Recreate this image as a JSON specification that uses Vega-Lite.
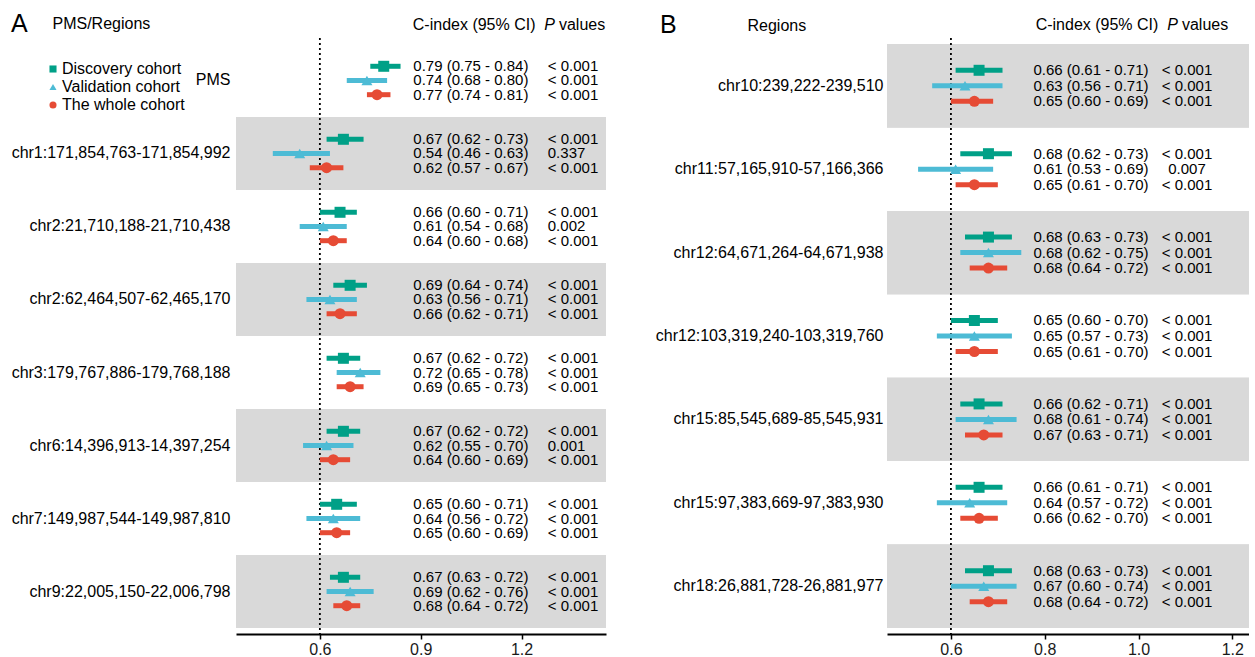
{
  "$schema": "https://vega.github.io/schema/vega-lite/v6.json",
  "background": "white",
  "padding": {"left": 11, "top": 12, "right": 0, "bottom": 0},
  "spacing": 49,
  "datasets": {
    "a": [
      {"region": "PMS", "cohort": "Discovery cohort", "est": 0.79, "lo": 0.75, "hi": 0.84, "ci": "0.79 (0.75 - 0.84)", "p": "< 0.001"},
      {"region": "PMS", "cohort": "Validation cohort", "est": 0.74, "lo": 0.68, "hi": 0.80, "ci": "0.74 (0.68 - 0.80)", "p": "< 0.001"},
      {"region": "PMS", "cohort": "The whole cohort", "est": 0.77, "lo": 0.74, "hi": 0.81, "ci": "0.77 (0.74 - 0.81)", "p": "< 0.001"},
      {"region": "chr1:171,854,763-171,854,992", "cohort": "Discovery cohort", "est": 0.67, "lo": 0.62, "hi": 0.73, "ci": "0.67 (0.62 - 0.73)", "p": "< 0.001"},
      {"region": "chr1:171,854,763-171,854,992", "cohort": "Validation cohort", "est": 0.54, "lo": 0.46, "hi": 0.63, "ci": "0.54 (0.46 - 0.63)", "p": "0.337"},
      {"region": "chr1:171,854,763-171,854,992", "cohort": "The whole cohort", "est": 0.62, "lo": 0.57, "hi": 0.67, "ci": "0.62 (0.57 - 0.67)", "p": "< 0.001"},
      {"region": "chr2:21,710,188-21,710,438", "cohort": "Discovery cohort", "est": 0.66, "lo": 0.60, "hi": 0.71, "ci": "0.66 (0.60 - 0.71)", "p": "< 0.001"},
      {"region": "chr2:21,710,188-21,710,438", "cohort": "Validation cohort", "est": 0.61, "lo": 0.54, "hi": 0.68, "ci": "0.61 (0.54 - 0.68)", "p": "0.002"},
      {"region": "chr2:21,710,188-21,710,438", "cohort": "The whole cohort", "est": 0.64, "lo": 0.60, "hi": 0.68, "ci": "0.64 (0.60 - 0.68)", "p": "< 0.001"},
      {"region": "chr2:62,464,507-62,465,170", "cohort": "Discovery cohort", "est": 0.69, "lo": 0.64, "hi": 0.74, "ci": "0.69 (0.64 - 0.74)", "p": "< 0.001"},
      {"region": "chr2:62,464,507-62,465,170", "cohort": "Validation cohort", "est": 0.63, "lo": 0.56, "hi": 0.71, "ci": "0.63 (0.56 - 0.71)", "p": "< 0.001"},
      {"region": "chr2:62,464,507-62,465,170", "cohort": "The whole cohort", "est": 0.66, "lo": 0.62, "hi": 0.71, "ci": "0.66 (0.62 - 0.71)", "p": "< 0.001"},
      {"region": "chr3:179,767,886-179,768,188", "cohort": "Discovery cohort", "est": 0.67, "lo": 0.62, "hi": 0.72, "ci": "0.67 (0.62 - 0.72)", "p": "< 0.001"},
      {"region": "chr3:179,767,886-179,768,188", "cohort": "Validation cohort", "est": 0.72, "lo": 0.65, "hi": 0.78, "ci": "0.72 (0.65 - 0.78)", "p": "< 0.001"},
      {"region": "chr3:179,767,886-179,768,188", "cohort": "The whole cohort", "est": 0.69, "lo": 0.65, "hi": 0.73, "ci": "0.69 (0.65 - 0.73)", "p": "< 0.001"},
      {"region": "chr6:14,396,913-14,397,254", "cohort": "Discovery cohort", "est": 0.67, "lo": 0.62, "hi": 0.72, "ci": "0.67 (0.62 - 0.72)", "p": "< 0.001"},
      {"region": "chr6:14,396,913-14,397,254", "cohort": "Validation cohort", "est": 0.62, "lo": 0.55, "hi": 0.70, "ci": "0.62 (0.55 - 0.70)", "p": "0.001"},
      {"region": "chr6:14,396,913-14,397,254", "cohort": "The whole cohort", "est": 0.64, "lo": 0.60, "hi": 0.69, "ci": "0.64 (0.60 - 0.69)", "p": "< 0.001"},
      {"region": "chr7:149,987,544-149,987,810", "cohort": "Discovery cohort", "est": 0.65, "lo": 0.60, "hi": 0.71, "ci": "0.65 (0.60 - 0.71)", "p": "< 0.001"},
      {"region": "chr7:149,987,544-149,987,810", "cohort": "Validation cohort", "est": 0.64, "lo": 0.56, "hi": 0.72, "ci": "0.64 (0.56 - 0.72)", "p": "< 0.001"},
      {"region": "chr7:149,987,544-149,987,810", "cohort": "The whole cohort", "est": 0.65, "lo": 0.60, "hi": 0.69, "ci": "0.65 (0.60 - 0.69)", "p": "< 0.001"},
      {"region": "chr9:22,005,150-22,006,798", "cohort": "Discovery cohort", "est": 0.67, "lo": 0.63, "hi": 0.72, "ci": "0.67 (0.63 - 0.72)", "p": "< 0.001"},
      {"region": "chr9:22,005,150-22,006,798", "cohort": "Validation cohort", "est": 0.69, "lo": 0.62, "hi": 0.76, "ci": "0.69 (0.62 - 0.76)", "p": "< 0.001"},
      {"region": "chr9:22,005,150-22,006,798", "cohort": "The whole cohort", "est": 0.68, "lo": 0.64, "hi": 0.72, "ci": "0.68 (0.64 - 0.72)", "p": "< 0.001"}
    ],
    "b": [
      {"region": "chr10:239,222-239,510", "cohort": "Discovery cohort", "est": 0.66, "lo": 0.61, "hi": 0.71, "ci": "0.66 (0.61 - 0.71)", "p": "< 0.001"},
      {"region": "chr10:239,222-239,510", "cohort": "Validation cohort", "est": 0.63, "lo": 0.56, "hi": 0.71, "ci": "0.63 (0.56 - 0.71)", "p": "< 0.001"},
      {"region": "chr10:239,222-239,510", "cohort": "The whole cohort", "est": 0.65, "lo": 0.60, "hi": 0.69, "ci": "0.65 (0.60 - 0.69)", "p": "< 0.001"},
      {"region": "chr11:57,165,910-57,166,366", "cohort": "Discovery cohort", "est": 0.68, "lo": 0.62, "hi": 0.73, "ci": "0.68 (0.62 - 0.73)", "p": "< 0.001"},
      {"region": "chr11:57,165,910-57,166,366", "cohort": "Validation cohort", "est": 0.61, "lo": 0.53, "hi": 0.69, "ci": "0.61 (0.53 - 0.69)", "p": "0.007"},
      {"region": "chr11:57,165,910-57,166,366", "cohort": "The whole cohort", "est": 0.65, "lo": 0.61, "hi": 0.70, "ci": "0.65 (0.61 - 0.70)", "p": "< 0.001"},
      {"region": "chr12:64,671,264-64,671,938", "cohort": "Discovery cohort", "est": 0.68, "lo": 0.63, "hi": 0.73, "ci": "0.68 (0.63 - 0.73)", "p": "< 0.001"},
      {"region": "chr12:64,671,264-64,671,938", "cohort": "Validation cohort", "est": 0.68, "lo": 0.62, "hi": 0.75, "ci": "0.68 (0.62 - 0.75)", "p": "< 0.001"},
      {"region": "chr12:64,671,264-64,671,938", "cohort": "The whole cohort", "est": 0.68, "lo": 0.64, "hi": 0.72, "ci": "0.68 (0.64 - 0.72)", "p": "< 0.001"},
      {"region": "chr12:103,319,240-103,319,760", "cohort": "Discovery cohort", "est": 0.65, "lo": 0.60, "hi": 0.70, "ci": "0.65 (0.60 - 0.70)", "p": "< 0.001"},
      {"region": "chr12:103,319,240-103,319,760", "cohort": "Validation cohort", "est": 0.65, "lo": 0.57, "hi": 0.73, "ci": "0.65 (0.57 - 0.73)", "p": "< 0.001"},
      {"region": "chr12:103,319,240-103,319,760", "cohort": "The whole cohort", "est": 0.65, "lo": 0.61, "hi": 0.70, "ci": "0.65 (0.61 - 0.70)", "p": "< 0.001"},
      {"region": "chr15:85,545,689-85,545,931", "cohort": "Discovery cohort", "est": 0.66, "lo": 0.62, "hi": 0.71, "ci": "0.66 (0.62 - 0.71)", "p": "< 0.001"},
      {"region": "chr15:85,545,689-85,545,931", "cohort": "Validation cohort", "est": 0.68, "lo": 0.61, "hi": 0.74, "ci": "0.68 (0.61 - 0.74)", "p": "< 0.001"},
      {"region": "chr15:85,545,689-85,545,931", "cohort": "The whole cohort", "est": 0.67, "lo": 0.63, "hi": 0.71, "ci": "0.67 (0.63 - 0.71)", "p": "< 0.001"},
      {"region": "chr15:97,383,669-97,383,930", "cohort": "Discovery cohort", "est": 0.66, "lo": 0.61, "hi": 0.71, "ci": "0.66 (0.61 - 0.71)", "p": "< 0.001"},
      {"region": "chr15:97,383,669-97,383,930", "cohort": "Validation cohort", "est": 0.64, "lo": 0.57, "hi": 0.72, "ci": "0.64 (0.57 - 0.72)", "p": "< 0.001"},
      {"region": "chr15:97,383,669-97,383,930", "cohort": "The whole cohort", "est": 0.66, "lo": 0.62, "hi": 0.70, "ci": "0.66 (0.62 - 0.70)", "p": "< 0.001"},
      {"region": "chr18:26,881,728-26,881,977", "cohort": "Discovery cohort", "est": 0.68, "lo": 0.63, "hi": 0.73, "ci": "0.68 (0.63 - 0.73)", "p": "< 0.001"},
      {"region": "chr18:26,881,728-26,881,977", "cohort": "Validation cohort", "est": 0.67, "lo": 0.60, "hi": 0.74, "ci": "0.67 (0.60 - 0.74)", "p": "< 0.001"},
      {"region": "chr18:26,881,728-26,881,977", "cohort": "The whole cohort", "est": 0.68, "lo": 0.64, "hi": 0.72, "ci": "0.68 (0.64 - 0.72)", "p": "< 0.001"}
    ],
    "ref": [{"threshold": 0.6}]
  },
  "hconcat": [
    {
      "width": 370,
      "height": 596,
      "title": {"text": "A", "anchor": "start", "frame": "group", "fontSize": 25, "fontWeight": "normal", "color": "black", "dx": -225, "offset": -22},
      "layer": [
        {
          "data": {"name": "a"},
          "transform": [{"filter": {"field": "region", "oneOf": ["chr1:171,854,763-171,854,992", "chr2:62,464,507-62,465,170", "chr6:14,396,913-14,397,254", "chr9:22,005,150-22,006,798"]}}],
          "mark": {"type": "rect", "color": "#D9D9D9"},
          "encoding": {
            "y": {"field": "region", "type": "nominal",
              "scale": {"domain": ["PMS", "chr1:171,854,763-171,854,992", "chr2:21,710,188-21,710,438", "chr2:62,464,507-62,465,170", "chr3:179,767,886-179,768,188", "chr6:14,396,913-14,397,254", "chr7:149,987,544-149,987,810", "chr9:22,005,150-22,006,798"], "paddingInner": 0, "paddingOuter": 0.082},
              "axis": {"title": "PMS/Regions", "titleAngle": 0, "titleAlign": "left", "titleBaseline": "middle", "titleX": -184, "titleY": -15, "titleFontSize": 16, "titleFontWeight": "normal", "titleColor": "black", "labelPadding": 6}}
          }
        },
        {
          "data": {"name": "ref"},
          "mark": {"type": "rule", "color": "black", "strokeDash": [2, 3], "strokeWidth": 1.8},
          "encoding": {
            "x": {"field": "threshold", "type": "quantitative", "scale": {"domain": [0.3505, 1.4512], "nice": false, "zero": false},
              "axis": {"orient": "top", "title": null, "domain": false, "ticks": false, "grid": false, "values": [0.875, 1.2662, 1.3098],
                "labelExpr": "datum.value < 1 ? 'C-index (95% CI)' : (datum.value < 1.28 ? 'P' : 'values')",
                "labelFontStyle": {"condition": {"test": "datum.value > 1 && datum.value < 1.28", "value": "italic"}, "value": "normal"},
                "labelAlign": "left", "labelBaseline": "middle", "labelPadding": 14, "labelFontSize": 16, "labelColor": "black", "labelOverlap": false, "labelFlush": false}}
          }
        },
        {
          "data": {"name": "a"},
          "mark": {"type": "bar", "height": 5},
          "encoding": {
            "x": {"field": "lo", "type": "quantitative", "scale": {"domain": [0.3505, 1.4512], "nice": false, "zero": false},
              "axis": {"orient": "bottom", "title": null, "values": [0.6, 0.9, 1.2], "format": ".1f", "grid": false, "domainColor": "black", "domainWidth": 2, "tickColor": "black", "tickWidth": 1.5, "tickSize": 5, "labelFontSize": 16, "labelColor": "#1a1a1a", "labelPadding": 2, "labelFlush": false}},
            "x2": {"field": "hi"},
            "y": {"field": "region", "type": "nominal", "scale": {"domain": ["PMS", "chr1:171,854,763-171,854,992", "chr2:21,710,188-21,710,438", "chr2:62,464,507-62,465,170", "chr3:179,767,886-179,768,188", "chr6:14,396,913-14,397,254", "chr7:149,987,544-149,987,810", "chr9:22,005,150-22,006,798"]}},
            "yOffset": {"field": "cohort", "type": "nominal", "scale": {"domain": [" ", "Discovery cohort", "Validation cohort", "The whole cohort", "  "], "paddingInner": 0, "paddingOuter": 0.07}},
            "color": {"field": "cohort", "type": "nominal", "scale": {"domain": ["Discovery cohort", "Validation cohort", "The whole cohort"], "range": ["#00A087", "#4DBBD5", "#E64B35"]}}
          }
        },
        {
          "data": {"name": "a"},
          "mark": {"type": "point", "filled": true, "opacity": 1, "size": 121},
          "encoding": {
            "x": {"field": "est", "type": "quantitative", "axis": null},
            "y": {"field": "region", "type": "nominal", "scale": {"domain": ["PMS", "chr1:171,854,763-171,854,992", "chr2:21,710,188-21,710,438", "chr2:62,464,507-62,465,170", "chr3:179,767,886-179,768,188", "chr6:14,396,913-14,397,254", "chr7:149,987,544-149,987,810", "chr9:22,005,150-22,006,798"]}},
            "yOffset": {"field": "cohort", "type": "nominal", "scale": {"domain": [" ", "Discovery cohort", "Validation cohort", "The whole cohort", "  "], "paddingInner": 0, "paddingOuter": 0.07}},
            "color": {"field": "cohort", "type": "nominal", "scale": {"domain": ["Discovery cohort", "Validation cohort", "The whole cohort"], "range": ["#00A087", "#4DBBD5", "#E64B35"]},
              "legend": {"title": null, "orient": "none", "legendX": -191, "legendY": 23}},
            "shape": {"field": "cohort", "type": "nominal", "scale": {"domain": ["Discovery cohort", "Validation cohort", "The whole cohort"], "range": ["square", "triangle-up", "circle"]},
              "legend": {"title": null, "orient": "none", "legendX": -191, "legendY": 23}}
          }
        },
        {
          "data": {"name": "a"},
          "mark": {"type": "text", "align": "left", "baseline": "middle", "fontSize": 15, "color": "black"},
          "encoding": {
            "x": {"datum": 0.878, "type": "quantitative", "axis": null},
            "y": {"field": "region", "type": "nominal", "scale": {"domain": ["PMS", "chr1:171,854,763-171,854,992", "chr2:21,710,188-21,710,438", "chr2:62,464,507-62,465,170", "chr3:179,767,886-179,768,188", "chr6:14,396,913-14,397,254", "chr7:149,987,544-149,987,810", "chr9:22,005,150-22,006,798"]}},
            "yOffset": {"field": "cohort", "type": "nominal", "scale": {"domain": [" ", "Discovery cohort", "Validation cohort", "The whole cohort", "  "], "paddingInner": 0, "paddingOuter": 0.07}},
            "text": {"field": "ci"}
          }
        },
        {
          "data": {"name": "a"},
          "mark": {"type": "text", "align": "left", "baseline": "middle", "fontSize": 15, "color": "black"},
          "encoding": {
            "x": {"datum": 1.278, "type": "quantitative", "axis": null},
            "y": {"field": "region", "type": "nominal", "scale": {"domain": ["PMS", "chr1:171,854,763-171,854,992", "chr2:21,710,188-21,710,438", "chr2:62,464,507-62,465,170", "chr3:179,767,886-179,768,188", "chr6:14,396,913-14,397,254", "chr7:149,987,544-149,987,810", "chr9:22,005,150-22,006,798"]}},
            "yOffset": {"field": "cohort", "type": "nominal", "scale": {"domain": [" ", "Discovery cohort", "Validation cohort", "The whole cohort", "  "], "paddingInner": 0, "paddingOuter": 0.07}},
            "text": {"field": "p"}
          }
        }
      ],
      "resolve": {"axis": {"x": "independent"}}
    },
    {
      "width": 362,
      "height": 596,
      "title": {"text": "B", "anchor": "start", "frame": "group", "fontSize": 25, "fontWeight": "normal", "color": "black", "dx": -227, "offset": -22},
      "layer": [
        {
          "data": {"name": "b"},
          "transform": [{"filter": {"field": "region", "oneOf": ["chr10:239,222-239,510", "chr12:64,671,264-64,671,938", "chr15:85,545,689-85,545,931", "chr18:26,881,728-26,881,977"]}}],
          "mark": {"type": "rect", "color": "#D9D9D9"},
          "encoding": {
            "y": {"field": "region", "type": "nominal",
              "scale": {"domain": ["chr10:239,222-239,510", "chr11:57,165,910-57,166,366", "chr12:64,671,264-64,671,938", "chr12:103,319,240-103,319,760", "chr15:85,545,689-85,545,931", "chr15:97,383,669-97,383,930", "chr18:26,881,728-26,881,977"], "paddingInner": 0, "paddingOuter": 0.073},
              "axis": {"title": "Regions", "titleAngle": 0, "titleAlign": "left", "titleBaseline": "middle", "titleX": -140, "titleY": -13, "titleFontSize": 16, "titleFontWeight": "normal", "titleColor": "black", "labelPadding": 4}}
          }
        },
        {
          "data": {"name": "ref"},
          "mark": {"type": "rule", "color": "black", "strokeDash": [2, 3], "strokeWidth": 1.8},
          "encoding": {
            "x": {"field": "threshold", "type": "quantitative", "scale": {"domain": [0.4637, 1.2355], "nice": false, "zero": false},
              "axis": {"orient": "top", "title": null, "domain": false, "ticks": false, "grid": false, "values": [0.7796, 1.0602, 1.0915],
                "labelExpr": "datum.value < 1 ? 'C-index (95% CI)' : (datum.value < 1.075 ? 'P' : 'values')",
                "labelFontStyle": {"condition": {"test": "datum.value > 1 && datum.value < 1.075", "value": "italic"}, "value": "normal"},
                "labelAlign": "left", "labelBaseline": "middle", "labelPadding": 14, "labelFontSize": 16, "labelColor": "black", "labelOverlap": false, "labelFlush": false}}
          }
        },
        {
          "data": {"name": "b"},
          "mark": {"type": "bar", "height": 5},
          "encoding": {
            "x": {"field": "lo", "type": "quantitative", "scale": {"domain": [0.4637, 1.2355], "nice": false, "zero": false},
              "axis": {"orient": "bottom", "title": null, "values": [0.6, 0.8, 1.0, 1.2], "format": ".1f", "grid": false, "domainColor": "black", "domainWidth": 2, "tickColor": "black", "tickWidth": 1.5, "tickSize": 5, "labelFontSize": 16, "labelColor": "#1a1a1a", "labelPadding": 2, "labelFlush": false}},
            "x2": {"field": "hi"},
            "y": {"field": "region", "type": "nominal", "scale": {"domain": ["chr10:239,222-239,510", "chr11:57,165,910-57,166,366", "chr12:64,671,264-64,671,938", "chr12:103,319,240-103,319,760", "chr15:85,545,689-85,545,931", "chr15:97,383,669-97,383,930", "chr18:26,881,728-26,881,977"]}},
            "yOffset": {"field": "cohort", "type": "nominal", "scale": {"domain": [" ", "Discovery cohort", "Validation cohort", "The whole cohort", "  "], "paddingInner": 0, "paddingOuter": 0.19}},
            "color": {"field": "cohort", "type": "nominal", "scale": {"domain": ["Discovery cohort", "Validation cohort", "The whole cohort"], "range": ["#00A087", "#4DBBD5", "#E64B35"]}, "legend": null}
          }
        },
        {
          "data": {"name": "b"},
          "mark": {"type": "point", "filled": true, "opacity": 1, "size": 121},
          "encoding": {
            "x": {"field": "est", "type": "quantitative", "axis": null},
            "y": {"field": "region", "type": "nominal", "scale": {"domain": ["chr10:239,222-239,510", "chr11:57,165,910-57,166,366", "chr12:64,671,264-64,671,938", "chr12:103,319,240-103,319,760", "chr15:85,545,689-85,545,931", "chr15:97,383,669-97,383,930", "chr18:26,881,728-26,881,977"]}},
            "yOffset": {"field": "cohort", "type": "nominal", "scale": {"domain": [" ", "Discovery cohort", "Validation cohort", "The whole cohort", "  "], "paddingInner": 0, "paddingOuter": 0.19}},
            "color": {"field": "cohort", "type": "nominal", "scale": {"domain": ["Discovery cohort", "Validation cohort", "The whole cohort"], "range": ["#00A087", "#4DBBD5", "#E64B35"]}, "legend": null},
            "shape": {"field": "cohort", "type": "nominal", "scale": {"domain": ["Discovery cohort", "Validation cohort", "The whole cohort"], "range": ["square", "triangle-up", "circle"]}, "legend": null}
          }
        },
        {
          "data": {"name": "b"},
          "mark": {"type": "text", "align": "left", "baseline": "middle", "fontSize": 15, "color": "black"},
          "encoding": {
            "x": {"datum": 0.776, "type": "quantitative", "axis": null},
            "y": {"field": "region", "type": "nominal", "scale": {"domain": ["chr10:239,222-239,510", "chr11:57,165,910-57,166,366", "chr12:64,671,264-64,671,938", "chr12:103,319,240-103,319,760", "chr15:85,545,689-85,545,931", "chr15:97,383,669-97,383,930", "chr18:26,881,728-26,881,977"]}},
            "yOffset": {"field": "cohort", "type": "nominal", "scale": {"domain": [" ", "Discovery cohort", "Validation cohort", "The whole cohort", "  "], "paddingInner": 0, "paddingOuter": 0.19}},
            "text": {"field": "ci"}
          }
        },
        {
          "data": {"name": "b"},
          "mark": {"type": "text", "align": "center", "baseline": "middle", "fontSize": 15, "color": "black"},
          "encoding": {
            "x": {"datum": 1.1033, "type": "quantitative", "axis": null},
            "y": {"field": "region", "type": "nominal", "scale": {"domain": ["chr10:239,222-239,510", "chr11:57,165,910-57,166,366", "chr12:64,671,264-64,671,938", "chr12:103,319,240-103,319,760", "chr15:85,545,689-85,545,931", "chr15:97,383,669-97,383,930", "chr18:26,881,728-26,881,977"]}},
            "yOffset": {"field": "cohort", "type": "nominal", "scale": {"domain": [" ", "Discovery cohort", "Validation cohort", "The whole cohort", "  "], "paddingInner": 0, "paddingOuter": 0.19}},
            "text": {"field": "p"}
          }
        }
      ],
      "resolve": {"axis": {"x": "independent"}}
    }
  ],
  "resolve": {"scale": {"color": "independent", "shape": "independent", "yOffset": "independent"}, "legend": {"color": "independent", "shape": "independent"}},
  "config": {
    "font": "Liberation Sans",
    "view": {"stroke": null},
    "axisY": {"domain": false, "ticks": false, "grid": false, "labelFontSize": 16, "labelColor": "black", "labelLimit": 400},
    "legend": {"symbolSize": 50, "labelFontSize": 16, "labelColor": "black", "rowPadding": 2, "labelOffset": 1, "padding": 0, "symbolStrokeWidth": 0}
  }
}
